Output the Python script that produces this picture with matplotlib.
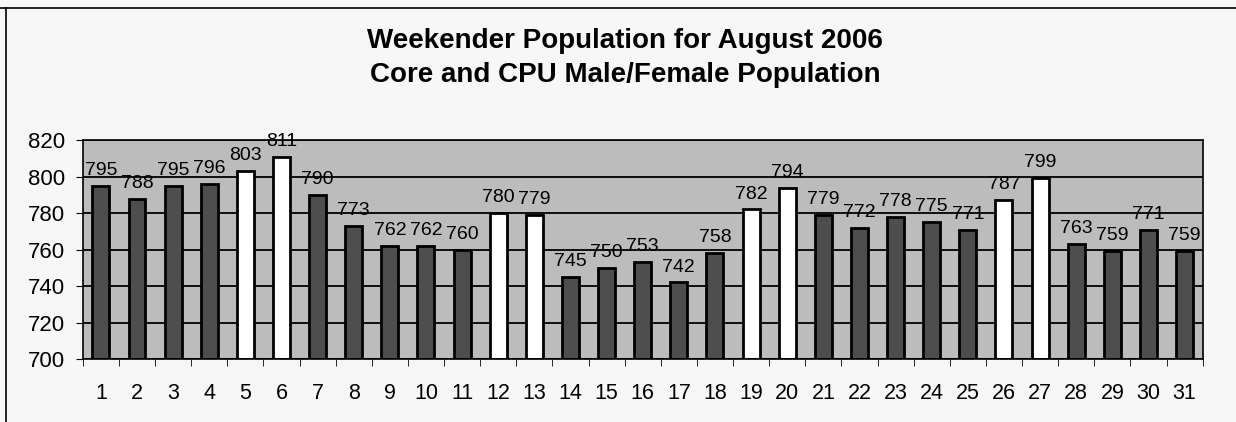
import matplotlib.pyplot as plt
from matplotlib.lines import Line2D
import numpy as np

plt.rcParams['font.family'] = ['Liberation Sans', 'DejaVu Sans']

days = list(range(1, 32))
population = [795, 788, 795, 796, 803, 811, 790, 773, 762, 762, 760, 780, 779, 745,
              750, 753, 742, 758, 782, 794, 779, 772, 778, 775, 771, 787, 799, 763,
              759, 771, 759]
weekend_days = [5, 6, 12, 13, 19, 20, 26, 27]

colors = ['white' if d in weekend_days else '#4d4d4d' for d in days]

fig = plt.figure(figsize=(12.36, 4.22), dpi=100)
fig.patch.set_facecolor('#f7f7f7')
ax = fig.add_axes([0.067, 0.149, 0.906, 0.519])
ax.set_facecolor('#bcbcbc')

ax.set_axisbelow(True)
ax.yaxis.grid(True, color='black', linewidth=1.3)

bars = ax.bar(days, [p - 700 for p in population], bottom=700, width=0.47,
              color=colors, edgecolor='black', linewidth=2)

for d, p in zip(days, population):
    ax.annotate(str(p), (d, p), xytext=(0, 5), textcoords='offset points',
                ha='center', va='bottom', fontsize=14)

ax.set_xlim(0.5, 31.5)
ax.set_ylim(700, 820)
ax.set_yticks(range(700, 821, 20))
ax.set_xticks(days)
ax.set_xticks(np.arange(0.5, 32, 1), minor=True)
ax.tick_params(axis='x', which='major', length=0, labelsize=15.5, pad=17)
ax.tick_params(axis='x', which='minor', length=5, direction='out')
ax.tick_params(axis='y', labelsize=16, length=5, direction='out', pad=8)
for s in ax.spines.values():
    s.set_linewidth(1.2)

fig.text(0.506, 0.903, 'Weekender Population for August 2006', ha='center', va='center',
         fontsize=20, fontweight='bold')
fig.text(0.506, 0.822, 'Core and CPU Male/Female Population', ha='center', va='center',
         fontsize=20, fontweight='bold')

# page border lines from the scan
fig.add_artist(Line2D([0, 1], [0.981, 0.981], color='black', linewidth=1.2))
fig.add_artist(Line2D([0.005, 0.005], [0, 0.981], color='black', linewidth=1.2))

fig.savefig('out.png', dpi=100, facecolor=fig.get_facecolor())
